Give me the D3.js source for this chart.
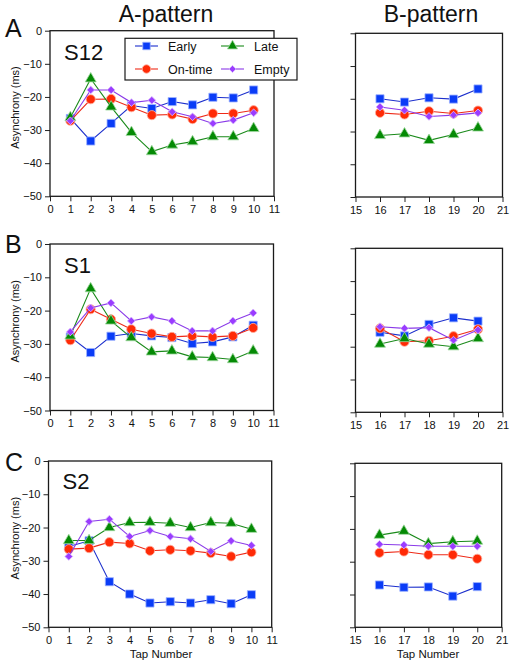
<!DOCTYPE html>
<html>
<head>
<meta charset="utf-8">
<script src="https://cdn.jsdelivr.net/npm/d3@7/dist/d3.min.js"></script>
<style>
  html, body { margin: 0; padding: 0; background: #fff; }
  svg { display: block; font-family: "Liberation Sans", Arial, Helvetica, sans-serif; }
</style>
</head>
<body>
<svg id="chart" width="513" height="664"></svg>
<script>
// ---------- data ----------
const tapsA = [1, 2, 3, 4, 5, 6, 7, 8, 9, 10];
const tapsB = [16, 17, 18, 19, 20];
const xTicksA = [0, 1, 2, 3, 4, 5, 6, 7, 8, 9, 10, 11];
const xTicksB = [15, 16, 17, 18, 19, 20, 21];
const yTicks = [0, -10, -20, -30, -40, -50];
const conditions = ["Early", "On-time", "Late", "Empty"];
const subjects = ["S12", "S1", "S2"];
const panelLetters = ["A", "B", "C"];

// S12
const s12EarlyA  = [-26.5, -33.3, -28.0, -22.6, -23.5, -21.4, -22.4, -20.1, -20.3, -17.9];
const s12OnTimeA = [-27.2, -20.7, -20.6, -23.1, -25.5, -25.3, -26.7, -25.0, -25.0, -24.0];
const s12LateA   = [-26.2, -14.5, -23.0, -30.7, -36.5, -34.5, -33.5, -32.0, -32.0, -29.5];
const s12EmptyA  = [-27.2, -17.9, -17.9, -21.7, -21.0, -24.5, -26.0, -28.0, -27.0, -24.8];
const s12EarlyB  = [-20.0, -21.0, -19.7, -20.1, -17.0];
const s12OnTimeB = [-24.3, -24.8, -23.8, -24.5, -23.6];
const s12LateB   = [-31.2, -30.7, -32.7, -30.9, -28.9];
const s12EmptyB  = [-22.5, -23.5, -25.4, -25.0, -24.3];
// S1
const s1EarlyA  = [-27.9, -32.6, -27.7, -26.9, -27.6, -28.1, -29.9, -29.4, -27.9, -24.4];
const s1OnTimeA = [-28.9, -19.6, -22.6, -25.6, -26.9, -27.9, -27.6, -27.9, -27.6, -25.2];
const s1LateA   = [-27.6, -13.4, -23.1, -28.1, -32.4, -32.1, -33.9, -34.1, -34.7, -32.1];
const s1EmptyA  = [-26.4, -19.2, -17.7, -23.1, -21.9, -23.1, -26.1, -26.1, -23.1, -20.7];
const s1EarlyB  = [-25.6, -26.7, -23.2, -21.2, -22.2];
const s1OnTimeB = [-24.4, -28.5, -28.2, -26.8, -24.7];
const s1LateB   = [-29.2, -27.5, -29.2, -30.0, -27.5];
const s1EmptyB  = [-23.9, -24.4, -24.2, -28.0, -24.9];
// S2
const s2EarlyA  = [-25.7, -24.0, -36.3, -40.0, -42.7, -42.3, -42.7, -41.7, -42.9, -40.2];
const s2OnTimeA = [-26.5, -26.2, -24.4, -24.8, -27.0, -26.7, -27.0, -27.7, -28.7, -27.4];
const s2LateA   = [-23.9, -23.9, -20.0, -18.5, -18.4, -18.7, -20.0, -18.5, -18.7, -20.5];
const s2EmptyA  = [-28.7, -18.2, -17.5, -22.7, -20.9, -22.7, -23.4, -27.2, -24.0, -25.4];
const s2EarlyB  = [-37.1, -37.8, -37.7, -40.5, -37.6];
const s2OnTimeB = [-27.3, -26.9, -27.9, -27.9, -29.1];
const s2LateB   = [-21.9, -20.7, -24.5, -23.9, -23.7];
const s2EmptyB  = [-24.7, -24.9, -25.3, -25.3, -25.3];

const dataA = [
  [s12EarlyA, s12OnTimeA, s12LateA, s12EmptyA],
  [s1EarlyA, s1OnTimeA, s1LateA, s1EmptyA],
  [s2EarlyA, s2OnTimeA, s2LateA, s2EmptyA]
];
const dataB = [
  [s12EarlyB, s12OnTimeB, s12LateB, s12EmptyB],
  [s1EarlyB, s1OnTimeB, s1LateB, s1EmptyB],
  [s2EarlyB, s2OnTimeB, s2LateB, s2EmptyB]
];

// ---------- styling / layout ----------
const styles = {
  "Early":   { fill: "#0a3cf7", line: "#1c2fcc", halo: "#9fb4ff", sym: d3.symbolSquare,   size: 66, rot: 0 },
  "On-time": { fill: "#ff2a06", line: "#ee2a18", halo: "#ffb0a0", sym: d3.symbolCircle,   size: 66, rot: 0 },
  "Late":    { fill: "#058a05", line: "#1a8a1a", halo: "#a0d8a0", sym: d3.symbolTriangle, size: 52, rot: 0 },
  "Empty":   { fill: "#9a3cff", line: "#8a3ae8", halo: "#d8b8ff", sym: d3.symbolSquare,   size: 30, rot: 45 }
};
const drawOrder = ["Early", "On-time", "Late", "Empty"];

const rows = [
  { left: { x: [50, 274],   y: [30.7, 196.3] }, right: { x: [355.5, 502.5], y: [33.3, 197] },   letterY: 37,  labelY: 60 },
  { left: { x: [50, 273.5], y: [244, 410.5] },  right: { x: [355.5, 502.5], y: [248.3, 412.3] }, letterY: 253, labelY: 273 },
  { left: { x: [48.5, 271.7], y: [461, 627.3] }, right: { x: [355, 501.7], y: [463.3, 627.3] }, letterY: 471, labelY: 489 }
];

const svg = d3.select("#chart");

function drawPanel(g, box, xDomain, xTicks, taps, series, showYLabels) {
  const x = d3.scaleLinear().domain(xDomain).range(box.x);
  const y = d3.scaleLinear().domain([0, -50]).range(box.y);

  const xAxis = d3.axisBottom(x).tickValues(xTicks).tickSize(5).tickPadding(4).tickFormat(d3.format("d"));
  const yAxis = d3.axisLeft(y).tickValues(yTicks).tickSize(5).tickPadding(3)
    .tickFormat(showYLabels ? d3.format("d") : () => "");

  const gx = g.append("g").attr("transform", `translate(0,${box.y[1]})`).call(xAxis);
  const gy = g.append("g").attr("transform", `translate(${box.x[0]},0)`).call(yAxis);
  [gx, gy].forEach(a => {
    a.select(".domain").remove();
    a.selectAll(".tick line").attr("stroke", "#222").attr("stroke-width", 1);
    a.selectAll(".tick text").attr("font-size", 11).attr("fill", "#111")
      .attr("font-family", "'Liberation Sans', Arial, sans-serif");
  });

  g.append("rect")
    .attr("x", box.x[0]).attr("y", box.y[0])
    .attr("width", box.x[1] - box.x[0]).attr("height", box.y[1] - box.y[0])
    .attr("fill", "none").attr("stroke", "#1a1a1a").attr("stroke-width", 1.3);

  const line = d3.line().x(d => x(d[0])).y(d => y(d[1]));

  drawOrder.forEach(cond => {
    const vals = series[conditions.indexOf(cond)];
    const pts = taps.map((t, i) => [t, vals[i]]);
    const st = styles[cond];
    g.append("path").datum(pts).attr("d", line)
      .attr("fill", "none").attr("stroke", st.line).attr("stroke-width", 1.1);
    g.selectAll(null).data(pts).enter().append("path")
      .attr("transform", d => `translate(${x(d[0])},${y(d[1])}) rotate(${st.rot})`)
      .attr("d", d3.symbol().type(st.sym).size(st.size))
      .attr("fill", st.fill).attr("stroke", st.halo).attr("stroke-width", 0.8);
  });
  return { x, y };
}

rows.forEach((r, i) => {
  const g = svg.append("g");
  drawPanel(g, r.left, [0, 11], xTicksA, tapsA, dataA[i], true);
  drawPanel(g, r.right, [15, 21], xTicksB, tapsB, dataB[i], false);

  svg.append("text").attr("x", 5).attr("y", r.letterY)
    .attr("font-size", 25).attr("fill", "#111").text(panelLetters[i]);
  svg.append("text").attr("x", r.left.x[0] + 14).attr("y", r.labelY)
    .attr("font-size", 22).attr("fill", "#111").text(subjects[i]);
  const cy = (r.left.y[0] + r.left.y[1]) / 2 - 6;
  svg.append("text")
    .attr("transform", `translate(19,${cy}) rotate(-90)`)
    .attr("text-anchor", "middle").attr("font-size", 11).attr("fill", "#111")
    .text("Asynchrony (ms)");
});

svg.append("text").attr("x", 166).attr("y", 22).attr("text-anchor", "middle")
  .attr("font-size", 23).attr("fill", "#111").text("A-pattern");
svg.append("text").attr("x", 431).attr("y", 22).attr("text-anchor", "middle")
  .attr("font-size", 23).attr("fill", "#111").text("B-pattern");

svg.append("text").attr("x", 161).attr("y", 658).attr("text-anchor", "middle")
  .attr("font-size", 11.5).attr("fill", "#111").text("Tap Number");
svg.append("text").attr("x", 428).attr("y", 658).attr("text-anchor", "middle")
  .attr("font-size", 11.5).attr("fill", "#111").text("Tap Number");

// legend
const lg = svg.append("g");
lg.append("rect").attr("x", 125).attr("y", 38.3).attr("width", 172).attr("height", 41.7)
  .attr("fill", "#fff").attr("stroke", "#1a1a1a").attr("stroke-width", 1.2);
const legendPos = {
  "Early":   { x: 135, y: 46 },
  "On-time": { x: 135, y: 69 },
  "Late":    { x: 221, y: 46 },
  "Empty":   { x: 221, y: 69 }
};
conditions.forEach(cond => {
  const p = legendPos[cond], st = styles[cond];
  lg.append("line").attr("x1", p.x).attr("x2", p.x + 23).attr("y1", p.y).attr("y2", p.y)
    .attr("stroke", st.line).attr("stroke-width", 1.1);
  lg.append("path").attr("transform", `translate(${p.x + 11.5},${p.y}) rotate(${st.rot})`)
    .attr("d", d3.symbol().type(st.sym).size(st.size * 0.85))
    .attr("fill", st.fill).attr("stroke", st.halo).attr("stroke-width", 0.8);
  lg.append("text").attr("x", p.x + 33).attr("y", p.y + 4.5)
    .attr("font-size", 12.5).attr("fill", "#111").text(cond);
});
</script>
</body>
</html>
